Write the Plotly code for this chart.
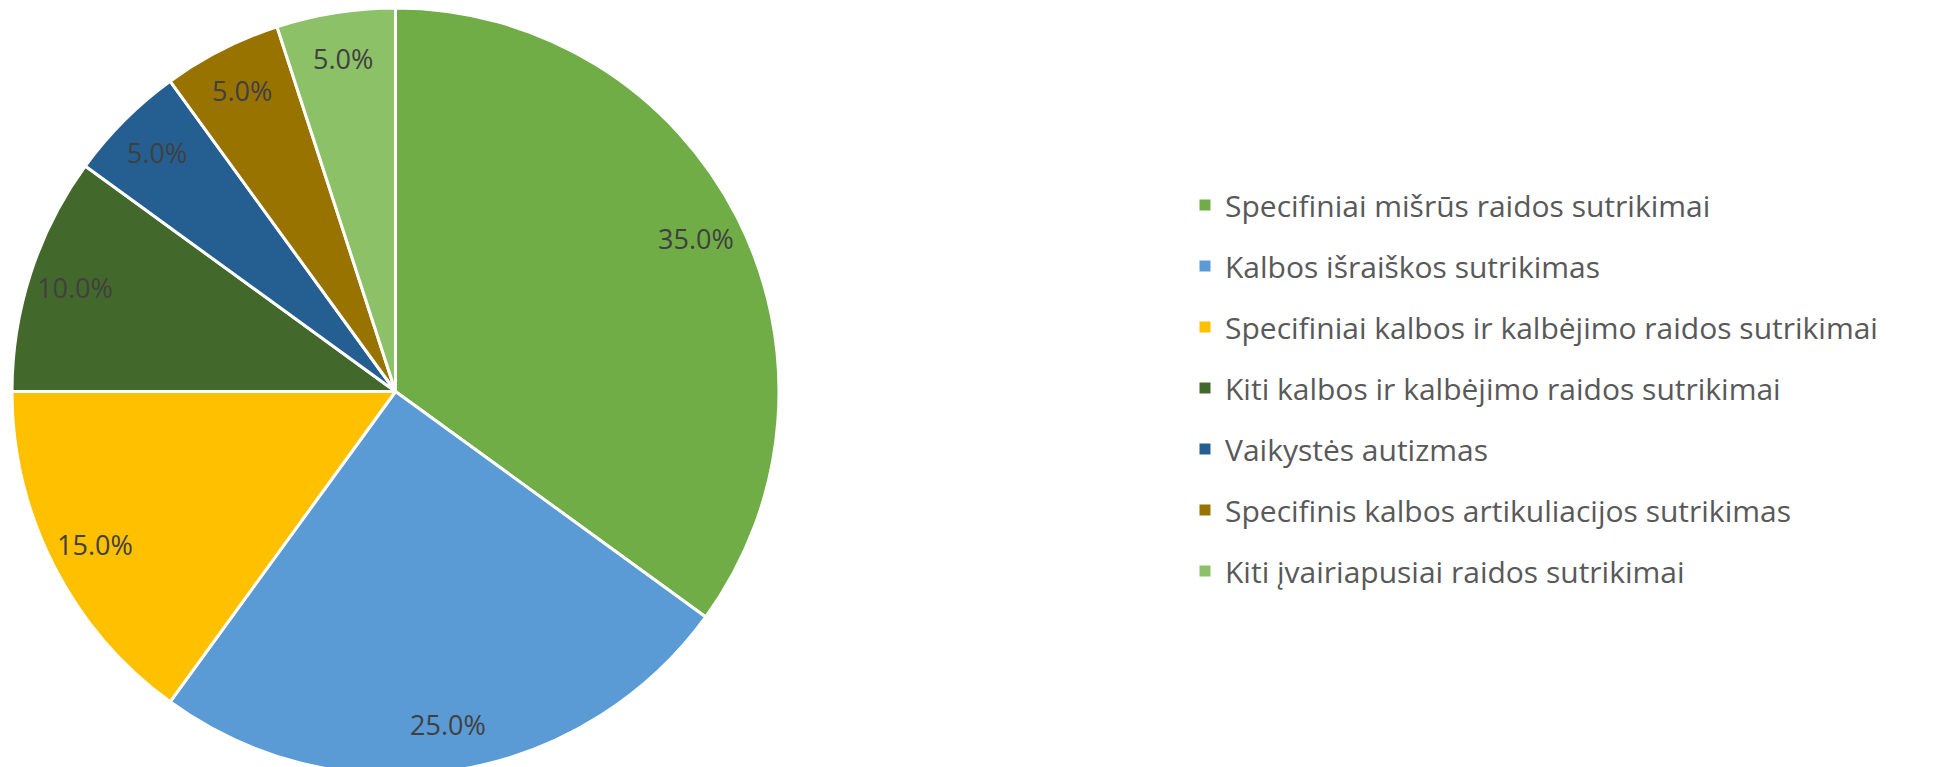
import math
import plotly.graph_objects as go

labels = [
    "Specifiniai mišrūs raidos sutrikimai",
    "Kalbos išraiškos sutrikimas",
    "Specifiniai kalbos ir kalbėjimo raidos sutrikimai",
    "Kiti kalbos ir kalbėjimo raidos sutrikimai",
    "Vaikystės autizmas",
    "Specifinis kalbos artikuliacijos sutrikimas",
    "Kiti įvairiapusiai raidos sutrikimai",
]
values = [35, 25, 15, 10, 5, 5, 5]
colors = ["#70AD47", "#5B9BD5", "#FFC000", "#43682B", "#255E91", "#997300", "#8CC168"]

W, H = 1951, 767
FONT = "'Open Sans', 'Noto Sans', sans-serif"

# pie geometry (pixels)
CX, CY, R = 387.5, 383.5, 383.5
LABEL_FRAC = 0.88

fig = go.Figure()
fig.add_trace(go.Pie(
    labels=labels,
    values=values,
    sort=False,
    direction="clockwise",
    rotation=0,
    marker=dict(colors=colors, line=dict(color="white", width=3)),
    textinfo="none",
    domain=dict(x=[(CX - R) / W, (CX + R) / W], y=[0, 1]),
    showlegend=False,
    hoverinfo="label+percent",
))

# percentage labels placed near the outer edge of each slice (derived from values)
total = sum(values)
cum = 0
annotations = []
for v in values:
    mid = (cum + v / 2) / total * 2 * math.pi
    cum += v
    px = CX + LABEL_FRAC * R * math.sin(mid)
    py = CY - LABEL_FRAC * R * math.cos(mid)
    annotations.append(dict(
        x=px / W, y=1 - py / H, xref="paper", yref="paper",
        text=f"{v / total * 100:.1f}%", showarrow=False,
        xanchor="center", yanchor="middle",
        font=dict(family=FONT, size=27, color="#404040"),
    ))

for lab, col in zip(labels, colors):
    fig.add_trace(go.Scatter(
        x=[None], y=[None], mode="markers", name=lab,
        marker=dict(symbol="square", size=11, color=col),
        legendgroup=lab, showlegend=True,
    ))

fig.update_layout(
    width=W, height=H,
    margin=dict(l=0, r=0, t=0, b=0),
    paper_bgcolor="white", plot_bgcolor="white",
    xaxis=dict(visible=False), yaxis=dict(visible=False),
    annotations=annotations,
    legend=dict(
        x=1177 / W, xanchor="left", y=1 - 171 / H, yanchor="top",
        font=dict(family=FONT, size=30, color="#595959"),
        tracegroupgap=19, itemsizing="trace",
        bgcolor="rgba(0,0,0,0)",
    ),
)

fig.write_html("out.html")
